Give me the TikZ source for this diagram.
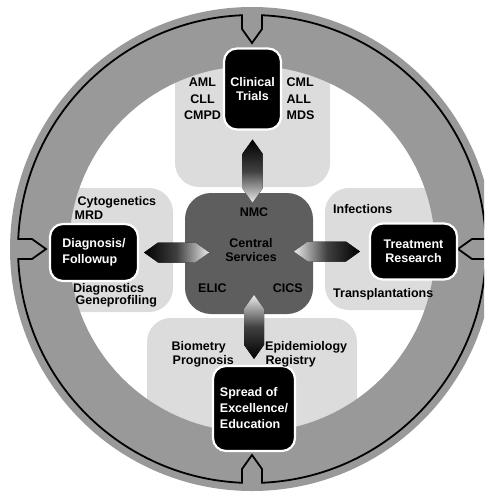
\documentclass[tikz,border=0pt]{standalone}
\usepackage{fontspec}
\setmainfont{Liberation Sans}
\usetikzlibrary{calc}
\definecolor{ringgray}{HTML}{999999}
\definecolor{panelgray}{HTML}{DCDCDC}
\definecolor{coregray}{HTML}{5E5E5E}
\definecolor{tailgray}{HTML}{EAEAEA}
\definecolor{midgray}{HTML}{404040}
\tikzset{
  txt/.style={inner sep=0pt, font=\fontsize{12.5}{15}\selectfont\bfseries, text=black},
  panel/.style={fill=panelgray, rounded corners=24pt},
  unit/.style={fill=black, draw=white, line width=2.2pt, rounded corners=13pt,
    text=white, inner sep=0pt, font=\bfseries},
  core/.style={fill=coregray, rounded corners=26pt, inner sep=0pt},
  rim/.style={line width=1.8pt, line join=miter},
}
\begin{document}
\begin{tikzpicture}[x=1pt,y=-1pt]
\useasboundingbox (0,0) rectangle (484,492);
\clip (0,0) rectangle (484,492);
\coordinate (C) at (252,249);

% light panels behind the four units
\begin{scope}
  \clip (C) circle (200);
  \fill[panel] (175,20) rectangle (330,187);
  \fill[panel] (10,188) rectangle (173,312);
  \fill[panel] (325,188) rectangle (490,310);
  \fill[panel] (147,318) rectangle (357,490);
\end{scope}

% grey ring
\fill[ringgray, even odd rule] (C) circle (242) (C) circle (183);

% black rim with four notches
\begin{scope}[shift={(C)}]
  \draw[rim] (2.45:234) arc[start angle=2.45, end angle=87.55, radius=234]
    -- (10,220) -- (0,206) -- (-10,220) -- (92.45:234)
    arc[start angle=92.45, end angle=177.55, radius=234]
    -- (-220,10) -- (-206,0) -- (-220,-10) -- (182.45:234)
    arc[start angle=182.45, end angle=267.55, radius=234]
    -- (-10,-220) -- (0,-206) -- (10,-220) -- (272.45:234)
    arc[start angle=272.45, end angle=357.55, radius=234]
    -- (220,-10) -- (206,0) -- (220,10) -- cycle;
\end{scope}

% central services
\node[core, minimum width=128pt, minimum height=121pt] (core) at (249,253.5) {};
\node[txt, anchor=base] (nmc) at (254,216.7) {NMC};
\node[txt, anchor=base] (central) at (251,247.3) {Central};
\node[txt, anchor=base] (services) at (251,261.7) {Services};
\node[txt, anchor=base west] (elic) at (198,292.7) {ELIC};
\node[txt, anchor=base east] (cics) at (303,292.7) {CICS};

% the four units
\node[unit, minimum width=57pt, minimum height=81pt, align=center,
      font=\fontsize{12.5}{14}\selectfont\bfseries] (trials) at (252.5,89) {Clinical\\Trials};
\node[unit, minimum width=88pt, minimum height=57pt, align=left,
      font=\fontsize{12.5}{16}\selectfont\bfseries] (diag) at (94,252.5) {Diagnosis/\\Followup};
\node[unit, minimum width=87pt, minimum height=56pt, align=center,
      font=\fontsize{12.5}{14}\selectfont\bfseries] (treat) at (413.5,251.5) {Treatment\\Research};
\node[unit, minimum width=82pt, minimum height=85pt, align=left,
      font=\fontsize{12.5}{16}\selectfont\bfseries] (spread) at (254,408.5) {Spread of\\Excellence/\\Education};

% shaded double-pointed arrows between the centre and the units
\begin{scope}[shift={(trials.south)}]
  \fill[top color=black, bottom color=tailgray, middle color=midgray]
    (0,9) -- (10,23) -- (10,58) -- (0,72) -- (-10,58) -- (-10,23) -- cycle;
\end{scope}
\begin{scope}[shift={(spread.north)}]
  \fill[top color=tailgray, bottom color=black, middle color=midgray]
    (0,-70) -- (10,-56) -- (10,-20) -- (0,-6) -- (-10,-20) -- (-10,-56) -- cycle;
\end{scope}
\begin{scope}[shift={(diag.east)}]
  \fill[left color=black, right color=tailgray, middle color=midgray]
    (5,0) -- (19,-10) -- (56,-10) -- (70,0) -- (56,10) -- (19,10) -- cycle;
\end{scope}
\begin{scope}[shift={(treat.west)}]
  \fill[left color=tailgray, right color=black, middle color=midgray]
    (-75,0) -- (-61,-10) -- (-23,-10) -- (-9,0) -- (-23,10) -- (-61,10) -- cycle;
\end{scope}

% topic lists
\node[txt, anchor=base] (aml) at (202.5,86.5) {AML};
\node[txt, anchor=base] (cll) at (202.5,103) {CLL};
\node[txt, anchor=base] (cmpd) at (202.5,120) {CMPD};
\node[txt, anchor=base west] (cml) at (286.5,86.5) {CML};
\node[txt, anchor=base west] (all) at (286.5,103) {ALL};
\node[txt, anchor=base west] (mds) at (286.5,120) {MDS};

\node[txt, anchor=base west] (cyto) at (77.5,205) {Cytogenetics};
\node[txt, anchor=base west] (mrd) at (74.5,219) {MRD};
\node[txt, anchor=base west] (dgn) at (73,292) {Diagnostics};
\node[txt, anchor=base west] (gene) at (75.5,304.5) {Geneprofiling};

\node[txt, anchor=base west] (inf) at (333,213.3) {Infections};
\node[txt, anchor=base west] (trans) at (333,297.3) {Transplantations};

\node[txt, anchor=base west] (bio) at (171.5,350.7) {Biometry};
\node[txt, anchor=base west] (prog) at (172.5,364.3) {Prognosis};
\node[txt, anchor=base west] (epi) at (265,350.7) {Epidemiology};
\node[txt, anchor=base west] (reg) at (265.5,364.3) {Registry};
\end{tikzpicture}
\end{document}
